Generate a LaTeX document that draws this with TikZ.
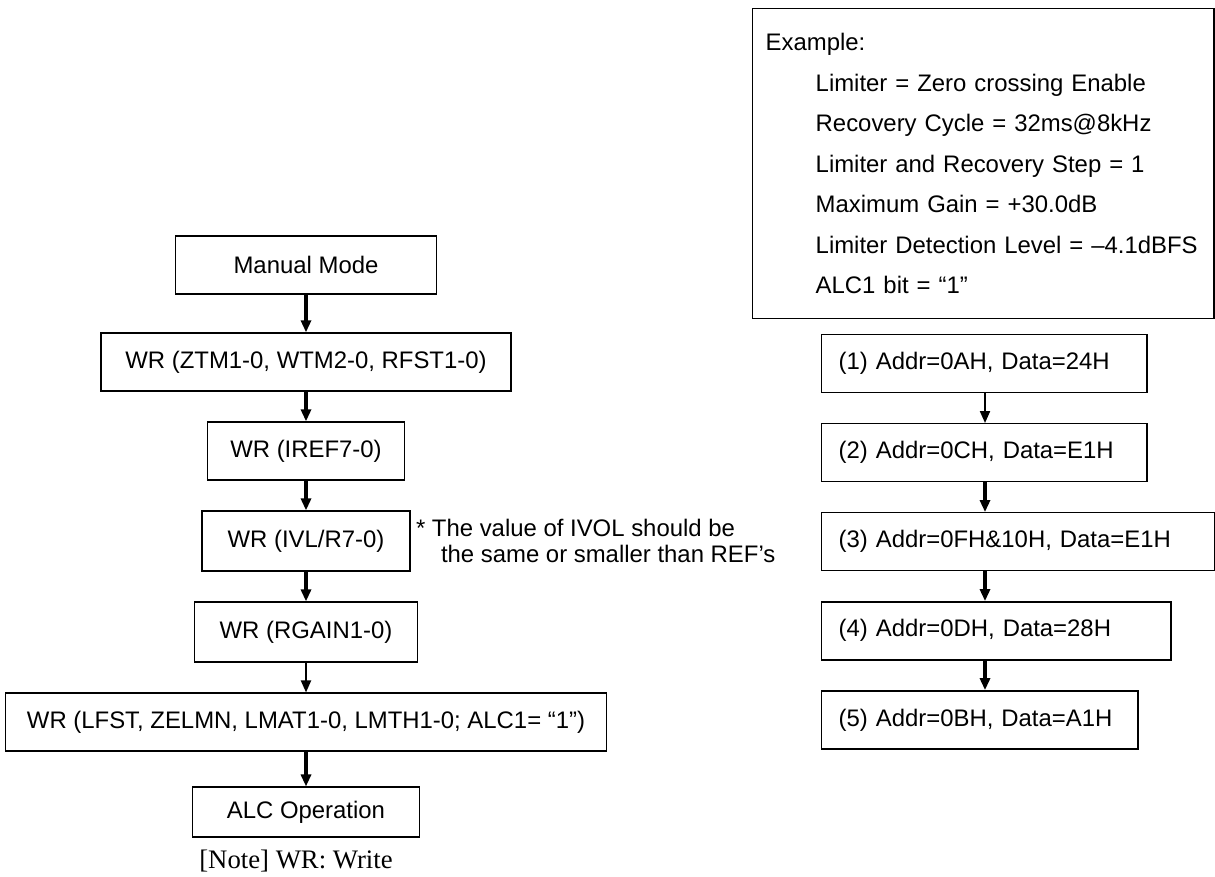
\documentclass[tikz,border=0pt]{standalone}
\usepackage{fontspec}
\setmainfont{Liberation Sans}
\newfontfamily\notefont{Liberation Serif}
\usepackage{tikz}
\usetikzlibrary{arrows.meta,positioning}

\begin{document}
\begin{tikzpicture}[x=0.025cm,y=-0.025cm,node distance=0.74cm,>={Triangle[length=0.3cm,width=0.25cm]},font=\fontsize{17}{20}\selectfont]
\tikzstyle{stepbox}=[rectangle,draw,line width=1pt,minimum height=1.45cm,align=center,inner sep=0pt]
\tikzstyle{regbox}=[rectangle,draw,line width=1pt,minimum height=1.45cm,align=left,inner xsep=0.425cm,inner ysep=0pt]
\tikzstyle{examplebox}=[rectangle,draw,line width=1pt,anchor=north west,minimum width=11.525cm,minimum height=7.75cm,text width=10.875cm,inner xsep=0.325cm,align=left,font=\fontsize{17}{28.8}\selectfont]
\tikzstyle{flow}=[->,line width=2.2pt]
\tikzstyle{thinflow}=[->,line width=1.4pt]
\useasboundingbox (0,0) rectangle (1215,876);

% manual mode -> ALC operation
\node[stepbox,minimum width=6.525cm] (mm) at (306,265) {Manual Mode};
\node[stepbox,minimum width=10.25cm,below=0.94cm of mm] (ztm) {WR (ZTM1-0, WTM2-0, RFST1-0)};
\node[stepbox,minimum width=4.925cm,below=of ztm] (iref) {WR (IREF7-0)};
\node[stepbox,minimum width=5.2cm,minimum height=1.5cm,below=of iref] (ivl) {WR (IVL/R7-0)};
\node[stepbox,minimum width=5.575cm,minimum height=1.5cm,below=of ivl] (rgain) {WR (RGAIN1-0)};
\node[stepbox,minimum width=15.025cm,below=of rgain] (lfst) {WR (LFST, ZELMN, LMAT1-0, LMTH1-0; ALC1= “1”)};
\node[stepbox,minimum width=5.675cm,minimum height=1.25cm,below=0.865cm of lfst] (alc) {ALC Operation};
\draw[flow] (mm) -- (ztm);
\draw[flow] (ztm) -- (iref);
\draw[flow] (iref) -- (ivl);
\draw[flow] (ivl) -- (rgain);
\draw[thinflow] (rgain) -- (lfst);
\draw[flow] (lfst) -- (alc);

\node[anchor=west,align=left,inner sep=0pt,font=\fontsize{17}{18}\selectfont,right=0.125cm of ivl] (ivlnote) {* The value of IVOL should be\\\hspace*{0.625cm}the same or smaller than REF’s};
\node[font=\notefont\fontsize{19}{22}\selectfont] (wrnote) at (296,861) {[Note] WR: Write};

% example settings
\node[examplebox] (ex) at (752,8) {Example:\\
\hspace*{1.25cm}Limiter = Zero crossing Enable\\
\hspace*{1.25cm}Recovery Cycle = 32ms@8kHz\\
\hspace*{1.25cm}Limiter and Recovery Step = 1\\
\hspace*{1.25cm}Maximum Gain = +30.0dB\\
\hspace*{1.25cm}Limiter Detection Level = –4.1dBFS\\
\hspace*{1.25cm}ALC1 bit = “1”};

% register writes
\coordinate (rx) at (985,0);
\node[regbox,anchor=north west,text width=7.275cm] (r1) at (821,334) {(1) Addr=0AH, Data=24H};
\node[regbox,below=of r1.south west,anchor=north west,text width=7.275cm] (r2) {(2) Addr=0CH, Data=E1H};
\node[regbox,below=of r2.south west,anchor=north west,text width=8.975cm] (r3) {(3) Addr=0FH\&10H, Data=E1H};
\node[regbox,below=of r3.south west,anchor=north west,text width=7.875cm] (r4) {(4) Addr=0DH, Data=28H};
\node[regbox,below=of r4.south west,anchor=north west,text width=7.05cm] (r5) {(5) Addr=0BH, Data=A1H};
\draw[thinflow] (r1.south -| rx) -- (r2.north -| rx);
\draw[flow] (r2.south -| rx) -- (r3.north -| rx);
\draw[flow] (r3.south -| rx) -- (r4.north -| rx);
\draw[flow] (r4.south -| rx) -- (r5.north -| rx);
\end{tikzpicture}
\end{document}
